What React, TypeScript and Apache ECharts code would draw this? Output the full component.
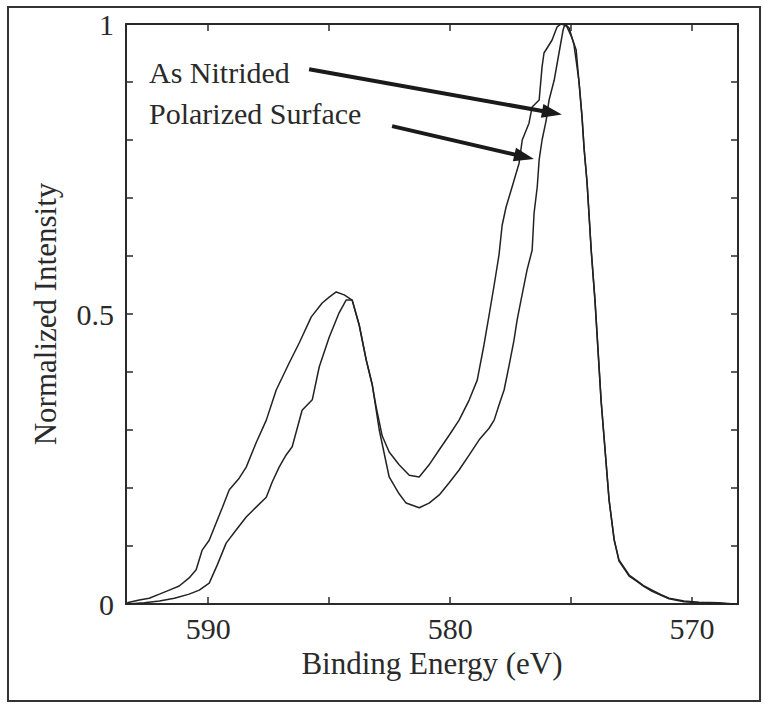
import React, { useEffect, useRef } from "react";
import * as echarts from "echarts";

// Binding energy (eV) and normalized intensity
const polarizedEnergy = [593.35, 592.85, 592.44, 592.02, 591.61, 591.2, 590.79, 590.5, 590.25, 589.96, 589.67, 589.42, 589.13, 588.72, 588.43, 588.02, 587.6, 587.19, 586.65, 586.24, 585.74, 585.29, 585.0, 584.71, 584.38, 584.05, 583.76, 583.47, 583.22, 583.06, 582.81, 582.52, 582.11, 581.69, 581.28, 580.87, 580.45, 580.04, 579.63, 579.21, 578.88, 578.6, 578.39, 578.18, 577.98, 577.85, 577.69, 577.44, 577.15, 577.02, 576.74, 576.61, 576.32, 576.2, 576.12, 575.79, 575.58, 575.41, 575.25, 575.17, 574.96, 574.79, 574.67, 574.55, 574.46, 574.34, 574.17, 574.01, 573.76, 573.43, 573.22, 573.02, 572.6, 572.31, 571.98, 571.65, 571.28, 570.95, 570.33, 569.71, 568.88, 568.26];
const polarizedIntensity = [0.002, 0.007, 0.01, 0.017, 0.024, 0.031, 0.045, 0.059, 0.093, 0.11, 0.14, 0.166, 0.197, 0.217, 0.236, 0.278, 0.317, 0.369, 0.416, 0.45, 0.495, 0.519, 0.529, 0.538, 0.533, 0.524, 0.481, 0.421, 0.378, 0.34, 0.29, 0.262, 0.24, 0.222, 0.219, 0.24, 0.266, 0.291, 0.317, 0.352, 0.386, 0.447, 0.498, 0.55, 0.602, 0.653, 0.684, 0.719, 0.76, 0.8, 0.829, 0.857, 0.869, 0.926, 0.95, 0.972, 0.995, 1.0, 0.998, 0.995, 0.976, 0.955, 0.898, 0.84, 0.783, 0.726, 0.61, 0.524, 0.352, 0.179, 0.11, 0.076, 0.05, 0.041, 0.031, 0.024, 0.016, 0.01, 0.005, 0.003, 0.002, 0.0];

const nitridedEnergy = [593.35, 592.64, 592.02, 591.4, 590.79, 590.37, 589.96, 589.63, 589.26, 588.84, 588.43, 588.02, 587.6, 587.36, 587.07, 586.78, 586.53, 586.12, 585.7, 585.41, 585.0, 584.59, 584.3, 584.05, 583.76, 583.47, 583.22, 582.93, 582.52, 582.11, 581.82, 581.28, 580.87, 580.45, 580.04, 579.63, 579.21, 578.8, 578.39, 578.18, 577.98, 577.77, 577.56, 577.36, 577.23, 577.07, 576.82, 576.61, 576.53, 576.4, 576.32, 576.2, 576.03, 575.91, 575.7, 575.5, 575.33, 575.25, 575.08, 574.88, 574.67, 574.55, 574.46, 574.34, 574.17, 574.01, 573.76, 573.43, 573.22, 573.02, 572.6, 572.31, 571.98, 571.65, 571.28, 570.95, 570.33, 569.71, 568.88, 568.26];
const nitridedIntensity = [0.0, 0.002, 0.005, 0.01, 0.017, 0.024, 0.036, 0.067, 0.105, 0.128, 0.15, 0.167, 0.184, 0.21, 0.236, 0.257, 0.271, 0.334, 0.352, 0.409, 0.46, 0.502, 0.524, 0.524, 0.481, 0.421, 0.378, 0.3, 0.219, 0.19, 0.174, 0.166, 0.174, 0.188, 0.209, 0.231, 0.257, 0.283, 0.303, 0.317, 0.343, 0.369, 0.412, 0.455, 0.49, 0.524, 0.576, 0.61, 0.674, 0.719, 0.766, 0.8, 0.834, 0.869, 0.903, 0.95, 0.99, 1.0, 0.993, 0.964, 0.9, 0.842, 0.785, 0.728, 0.612, 0.52, 0.35, 0.18, 0.112, 0.074, 0.048, 0.04, 0.03, 0.022, 0.015, 0.009, 0.004, 0.002, 0.001, 0.0];

const xLabelValues = [570, 580, 590];
const xTickValues = [570, 575, 580, 585, 590];
const yLabelValues = [0, 0.5, 1];

// annotation arrows: [start energy, start intensity] -> [tip energy, tip intensity]
const nitridedArrow = [[585.83, 0.922], [575.79, 0.847]];
const polarizedArrow = [[582.4, 0.824], [576.94, 0.771]];

const FONT = "'Liberation Serif', 'DejaVu Serif', serif";
const INK = "#2a2a2a";

export default function App() {
  const ref = useRef<HTMLDivElement>(null);
  useEffect(() => {
    if (!ref.current) return;
    const chart = echarts.init(ref.current, null, { renderer: "svg" });
    const xCommon = {
      type: "value" as const,
      inverse: true,
      min: 568.1,
      max: 593.4,
      splitLine: { show: false },
      axisLine: { show: true, onZero: false, lineStyle: { color: INK, width: 2 } },
      axisTick: { show: true, inside: true, length: 7, customValues: xTickValues, lineStyle: { color: INK, width: 1.5 } },
    };
    const yCommon = {
      type: "value" as const,
      min: 0,
      max: 1,
      interval: 0.1,
      splitLine: { show: false },
      axisLine: { show: true, onZero: false, lineStyle: { color: INK, width: 2 } },
      axisTick: { show: true, inside: true, length: 7, lineStyle: { color: INK, width: 1.5 } },
    };
    const arrowLine = (pts: number[][]) => ({
      silent: true,
      symbol: ["none", "triangle"],
      symbolSize: [14, 20],
      label: { show: false },
      lineStyle: { color: "#1a1a1a", width: 4, type: "solid" },
      data: [[{ coord: pts[0] }, { coord: pts[1] }]],
    });
    chart.setOption({
      animation: false,
      backgroundColor: "#ffffff",
      grid: { left: 126, right: 26, top: 24, bottom: 101 },
      xAxis: [
        {
          ...xCommon,
          position: "bottom",
          axisLabel: { show: true, customValues: xLabelValues, fontFamily: FONT, fontSize: 30, color: INK, margin: 9 },
          name: "Binding Energy (eV)",
          nameLocation: "middle",
          nameGap: 41,
          nameTextStyle: { fontFamily: FONT, fontSize: 31, color: INK },
        },
        { ...xCommon, position: "top", axisLabel: { show: false } },
      ],
      yAxis: [
        {
          ...yCommon,
          position: "left",
          axisLabel: { show: true, customValues: yLabelValues, fontFamily: FONT, fontSize: 30, color: INK, margin: 12 },
          name: "Normalized Intensity",
          nameLocation: "middle",
          nameGap: 65,
          nameTextStyle: { fontFamily: FONT, fontSize: 31, color: INK },
        },
        { ...yCommon, position: "right", axisLabel: { show: false } },
      ],
      series: [
        {
          name: "Polarized Surface",
          type: "line",
          showSymbol: false,
          symbol: "none",
          lineStyle: { color: "#222", width: 1.5 },
          data: polarizedEnergy.map((e, i) => [e, polarizedIntensity[i]]),
          markLine: arrowLine(polarizedArrow),
          z: 3,
        },
        {
          name: "As Nitrided",
          type: "line",
          showSymbol: false,
          symbol: "none",
          lineStyle: { color: "#222", width: 1.5 },
          data: nitridedEnergy.map((e, i) => [e, nitridedIntensity[i]]),
          markLine: arrowLine(nitridedArrow),
          z: 3,
        },
      ],
      graphic: [
        {
          type: "rect",
          shape: { x: 8, y: 7, width: 752, height: 694 },
          style: { fill: "none", stroke: "#333", lineWidth: 2 },
          silent: true,
        },
        {
          type: "text",
          x: 149,
          y: 72,
          style: { text: "As Nitrided", font: `30px ${FONT}`, fill: INK, textVerticalAlign: "middle" },
        },
        {
          type: "text",
          x: 149,
          y: 113,
          style: { text: "Polarized Surface", font: `30px ${FONT}`, fill: INK, textVerticalAlign: "middle" },
        },
      ],
    });
    return () => chart.dispose();
  }, []);
  return (
    <div
      ref={ref}
      style={{ position: "fixed", left: 0, top: 0, width: 764, height: 705, background: "#fff" }}
    />
  );
}
